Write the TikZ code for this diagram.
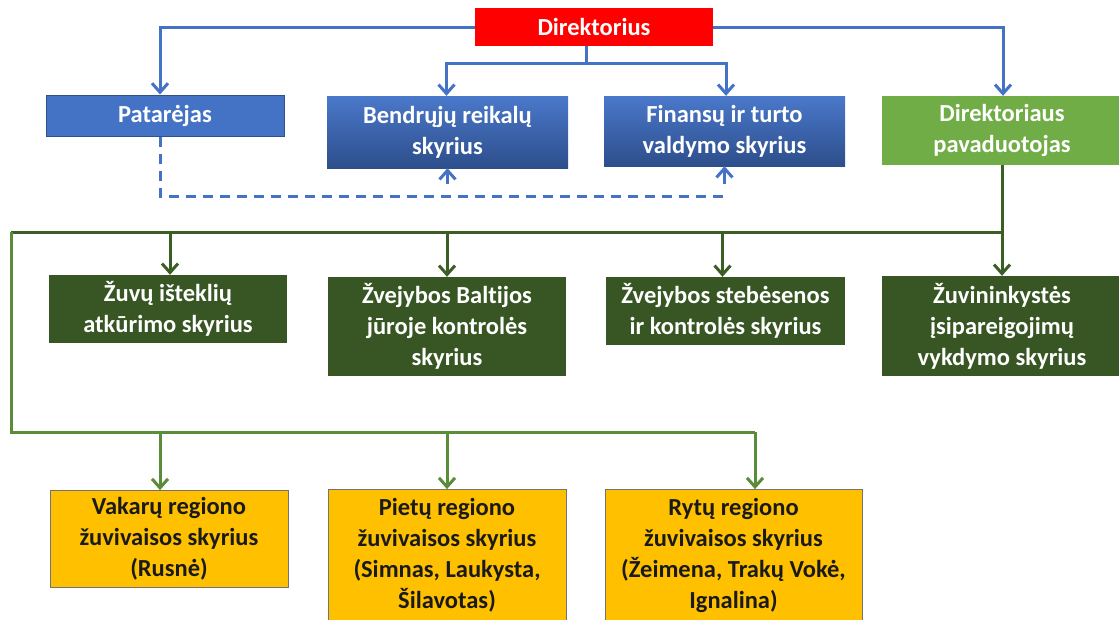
\documentclass[tikz,border=0pt]{standalone}
\usepackage{fontspec}
\setmainfont{Carlito}[RawFeature=-liga]
\usetikzlibrary{arrows.meta}
\definecolor{cred}{HTML}{FF0000}
\definecolor{cblue}{HTML}{4472C4}
\definecolor{cbluedk}{HTML}{2F528F}
\definecolor{cgradA}{HTML}{4A78CA}
\definecolor{cgradB}{HTML}{2D4E8B}
\definecolor{clgreen}{HTML}{70AD47}
\definecolor{cdgreen}{HTML}{375623}
\definecolor{cyellow}{HTML}{FFC000}
\definecolor{clineA}{HTML}{3B5E24}
\definecolor{clineB}{HTML}{5B8C3A}
\definecolor{ctext}{HTML}{1A1A1A}
\begin{document}
\begin{tikzpicture}[x=1pt,y=-1pt,
  >={Straight Barb[length=9pt,width=16pt]},
  box/.style={inner sep=0pt, align=center,
    font=\fontsize{24.5}{31}\selectfont\bfseries, text=white},
  redbox/.style={box, fill=cred},
  bluebox/.style={box, fill=cblue, draw=cbluedk, line width=1pt},
  gradbox/.style={box, top color=cgradA, bottom color=cgradB, draw=none},
  lgreenbox/.style={box, fill=clgreen},
  dgreenbox/.style={box, fill=cdgreen},
  ybox/.style={box, fill=cyellow, draw=black!55, line width=0.8pt, text=ctext},
  bline/.style={draw=cblue, line width=3pt},
  dashline/.style={dash pattern=on 10pt off 7pt},
  shortdash/.style={dash pattern=on 16pt off 12pt, dash phase=16pt},
  glineA/.style={draw=clineA, line width=3pt},
  glineB/.style={draw=clineB, line width=3pt}
]
\useasboundingbox (0,0) rectangle (1119,619);

% top row
\node[redbox, minimum width=238pt, minimum height=38pt] (dir) at (594,27) {Direktorius};
\node[bluebox, minimum width=238pt, minimum height=41pt] (pat) at (165,115.5) {Patarėjas};
\node[gradbox, minimum width=241pt, minimum height=72pt] (ben) at (447.5,132) {Bendrųjų reikalų\\skyrius};
\node[gradbox, minimum width=241pt, minimum height=70pt] (fin) at (724.5,131) {Finansų ir turto\\valdymo skyrius};
\node[lgreenbox, minimum width=240pt, minimum height=69pt] (dep) at (1002,130.5) {Direktoriaus\\pavaduotojas};

% middle row
\node[dgreenbox, minimum width=238pt, minimum height=68pt] (zuv) at (168,309) {Žuvų išteklių\\atkūrimo skyrius};
\node[dgreenbox, minimum width=238pt, minimum height=99pt] (balt) at (447,326.5) {Žvejybos Baltijos\\jūroje kontrolės\\skyrius};
\node[dgreenbox, minimum width=239pt, minimum height=68pt] (steb) at (725.5,311) {Žvejybos stebėsenos\\ir kontrolės skyrius};
\node[dgreenbox, minimum width=240pt, minimum height=100pt] (zuvin) at (1002,326) {Žuvininkystės\\įsipareigojimų\\vykdymo skyrius};

% bottom row
\node[ybox, minimum width=238pt, minimum height=97pt] (vak) at (169,539) {Vakarų regiono\\žuvivaisos skyrius\\(Rusnė)};
\node[ybox, minimum width=238pt, minimum height=132pt] (pie) at (447,555.5) {Pietų regiono\\žuvivaisos skyrius\\(Simnas, Laukysta,\\Šilavotas)};
\node[ybox, minimum width=257pt, minimum height=132pt] (ryt) at (733.5,555.5) {Rytų regiono\\žuvivaisos skyrius\\(Žeimena, Trakų Vokė,\\Ignalina)};

% blue connectors
\coordinate (patin) at ([xshift=-5pt]pat.north);
\draw[bline,->] (dir.west) -| (patin);
\draw[bline,->] (dir.east) -| ([xshift=1pt]dep.north);
\coordinate (j1) at (586,63);
\draw[bline] (dir.south -| j1) -- (j1);
\draw[bline,->] (j1) -| ([xshift=-1pt]ben.north);
\draw[bline,->] (j1) -| ([xshift=1.5pt]fin.north);

% dashed connectors
\coordinate (patout) at ([xshift=-5pt]pat.south);
\coordinate (d1) at (160,196);
\draw[bline,dashline] (patout) -- (d1) -- (d1 -| fin.south);
\draw[bline,shortdash,->] (d1 -| ben.south) -- (ben.south);
\draw[bline,shortdash,->] (d1 -| fin.south) -- (fin.south);

% green connectors (upper)
\coordinate (g1) at (dep.south |- 0,232);
\coordinate (g0) at (11,232);
\draw[glineA] (dep.south) -- (g1) -- (g0);
\draw[glineA,->] (g1) -- (zuvin.north);
\coordinate (zuvin2) at ([xshift=2pt]zuv.north);
\draw[glineA,->] (g0 -| zuvin2) -- (zuvin2);
\draw[glineA,->] (g0 -| balt.north) -- (balt.north);
\coordinate (stebin) at ([xshift=-3pt]steb.north);
\draw[glineA,->] (g0 -| stebin) -- (stebin);

% green connectors (lower)
\coordinate (h0) at (11,432);
\coordinate (h1) at (755,432);
\draw[glineB] (g0) -- (h0) -- (h1);
\coordinate (vakin) at ([xshift=-9pt]vak.north);
\draw[glineB,->] (vakin |- h0) -- (vakin);
\draw[glineB,->] (pie.north |- h0) -- (pie.north);
\draw[glineB,->] (h1) -- (h1 |- ryt.north);
\end{tikzpicture}
\end{document}
